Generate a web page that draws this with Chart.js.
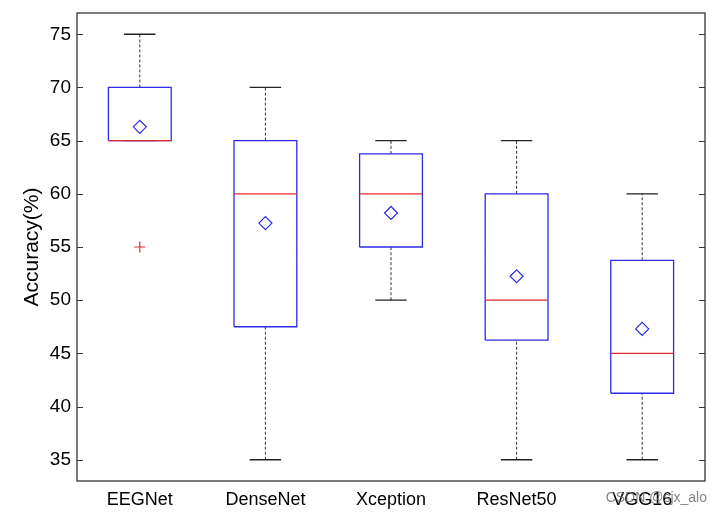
<!DOCTYPE html>
<html>
<head>
<meta charset="utf-8">
<script src="https://cdn.jsdelivr.net/npm/chart.js@4.4.0/dist/chart.umd.min.js"></script>
<style>
    html, body { margin: 0; padding: 0; background: #fff; }
    #wrap { width: 722px; height: 514px; }
</style>
</head>
<body>
<div id="wrap"><canvas id="boxChart" width="722" height="514"></canvas></div>
<script>
// Dữ liệu boxplot
const categories = ['EEGNet', 'DenseNet', 'Xception', 'ResNet50', 'VGG16'];
const whiskerLow = [65, 35, 50, 35, 35];
const q1 = [65, 47.5, 55, 46.25, 41.25];
const medians = [65, 60, 60, 50, 45];
const q3 = [70, 65, 63.75, 60, 53.75];
const whiskerHigh = [75, 70, 65, 65, 60];
const means = [66.3, 57.25, 58.2, 52.25, 47.3];
const outliers = [[55], [], [], [], []];
const yTicks = [35, 40, 45, 50, 55, 60, 65, 70, 75];

const BOX_HALF = 0.25;
const CAP_HALF = 0.125;
const FONT = '"Liberation Sans", Arial, sans-serif';

function gap(x) {
    return { x: x, y: null };
}

function buildBoxes() {
    const pts = [];
    categories.forEach((c, i) => {
        const x = i + 1;
        pts.push({ x: x - BOX_HALF, y: q1[i] }, { x: x + BOX_HALF, y: q1[i] },
                 { x: x + BOX_HALF, y: q3[i] }, { x: x - BOX_HALF, y: q3[i] },
                 { x: x - BOX_HALF, y: q1[i] }, gap(x));
    });
    return pts;
}

function buildMedians() {
    const pts = [];
    categories.forEach((c, i) => {
        const x = i + 1;
        pts.push({ x: x - BOX_HALF, y: medians[i] }, { x: x + BOX_HALF, y: medians[i] }, gap(x));
    });
    return pts;
}

function buildWhiskers() {
    const pts = [];
    categories.forEach((c, i) => {
        const x = i + 1;
        pts.push({ x: x, y: q3[i] }, { x: x, y: whiskerHigh[i] }, gap(x));
        pts.push({ x: x, y: whiskerLow[i] }, { x: x, y: q1[i] }, gap(x));
    });
    return pts;
}

function buildCaps() {
    const pts = [];
    categories.forEach((c, i) => {
        const x = i + 1;
        pts.push({ x: x - CAP_HALF, y: whiskerHigh[i] }, { x: x + CAP_HALF, y: whiskerHigh[i] }, gap(x));
        pts.push({ x: x - CAP_HALF, y: whiskerLow[i] }, { x: x + CAP_HALF, y: whiskerLow[i] }, gap(x));
    });
    return pts;
}

function lineSet(data, color, width, dash, order) {
    return {
        type: 'scatter',
        data: data,
        showLine: true,
        spanGaps: false,
        borderColor: color,
        borderWidth: width,
        borderDash: dash,
        pointRadius: 0,
        fill: false,
        order: order
    };
}

// Khung trục + vạch chia hướng vào trong
const framePlugin = {
    id: 'frame',
    afterDraw(chart) {
        const { ctx, chartArea: a, scales: { y } } = chart;
        ctx.save();
        ctx.strokeStyle = '#333';
        ctx.lineWidth = 1.3;
        ctx.strokeRect(a.left, a.top, a.right - a.left, a.bottom - a.top);
        ctx.lineWidth = 1.2;
        yTicks.forEach(v => {
            const py = Math.round(y.getPixelForValue(v)) + 0.5;
            ctx.beginPath();
            ctx.moveTo(a.left, py);
            ctx.lineTo(a.left + 6, py);
            ctx.moveTo(a.right, py);
            ctx.lineTo(a.right - 6, py);
            ctx.stroke();
        });
        ctx.font = '14px ' + FONT;
        ctx.fillStyle = 'rgba(110, 110, 110, 0.85)';
        ctx.textAlign = 'right';
        ctx.textBaseline = 'alphabetic';
        ctx.fillText('CSDN @sjx_alo', 707, 502);
        ctx.restore();
    }
};

const outlierPoints = [];
outliers.forEach((list, i) => list.forEach(v => outlierPoints.push({ x: i + 1, y: v })));

new Chart(document.getElementById('boxChart').getContext('2d'), {
    type: 'scatter',
    data: {
        datasets: [
            lineSet(buildCaps(), '#222', 1.3, [], 3),
            lineSet(buildWhiskers(), '#333', 1, [3, 2], 3),
            lineSet(buildBoxes(), '#2b2be6', 1.3, [], 2),
            lineSet(buildMedians(), '#e52b2b', 1.3, [], 1),
            {
                type: 'scatter',
                data: means.map((v, i) => ({ x: i + 1, y: v })),
                pointStyle: 'rectRot',
                pointRadius: 6.5,
                borderColor: '#2b2be6',
                backgroundColor: 'rgba(0,0,0,0)',
                borderWidth: 1.2,
                order: 0
            },
            {
                type: 'scatter',
                data: outlierPoints,
                pointStyle: 'cross',
                pointRadius: 5.5,
                borderColor: '#e52b2b',
                borderWidth: 1.2,
                order: 0
            }
        ]
    },
    options: {
        responsive: false,
        animation: false,
        events: [],
        layout: { padding: { top: 13, right: 17, left: 0, bottom: 0 } },
        plugins: {
            legend: { display: false },
            tooltip: { enabled: false }
        },
        scales: {
            x: {
                type: 'linear',
                min: 0.5,
                max: 5.5,
                afterBuildTicks: scale => {
                    scale.ticks = categories.map((c, i) => ({ value: i + 1 }));
                },
                afterFit: scale => {
                    scale.height = 33;
                    scale.paddingLeft = 0;
                    scale.paddingRight = 0;
                },
                grid: { display: false, drawTicks: false },
                border: { display: false },
                ticks: {
                    padding: 8,
                    maxRotation: 0,
                    autoSkip: false,
                    color: '#000',
                    font: { family: FONT, size: 18 },
                    callback: value => categories[value - 1] || ''
                }
            },
            y: {
                type: 'linear',
                min: 33,
                max: 77,
                afterBuildTicks: scale => {
                    scale.ticks = yTicks.map(v => ({ value: v }));
                },
                afterFit: scale => {
                    scale.width = 77;
                    scale.paddingTop = 0;
                    scale.paddingBottom = 0;
                },
                grid: { display: false, drawTicks: false },
                border: { display: false },
                ticks: {
                    padding: 6,
                    color: '#000',
                    font: { family: FONT, size: 19 }
                },
                title: {
                    display: true,
                    text: 'Accuracy(%)',
                    color: '#000',
                    font: { family: FONT, size: 21 },
                    padding: { top: 20, bottom: 0 }
                }
            }
        }
    },
    plugins: [framePlugin]
});
</script>
</body>
</html>
